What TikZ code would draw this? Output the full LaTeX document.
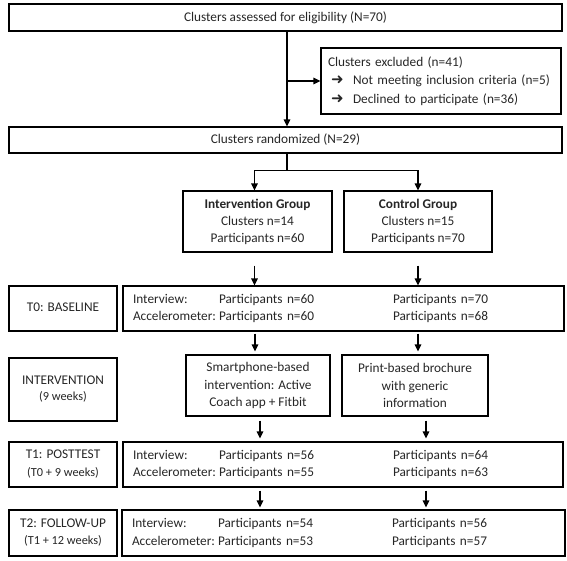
\documentclass[tikz,border=0pt]{standalone}
\usepackage{fontspec}
\setmainfont{Carlito}
\newfontfamily\symfont{DejaVu Sans}
\usetikzlibrary{arrows.meta,calc}
\tikzset{
  box/.style={draw, line width=1.2pt, inner sep=0pt, align=center, text=black!85,
    font=\fontsize{13.3}{17.5}\selectfont},
  databox/.style={draw, line width=1.2pt, inner xsep=10pt, inner ysep=0pt, align=left, text=black!85,
    font=\fontsize{13.3}{17.7}\selectfont},
  line/.style={line width=1.4pt},
  arr/.style={line width=1.4pt, -{Triangle[length=7pt,width=6.5pt]}}
}
\newcommand{\sml}[1]{{\fontsize{12.3}{17}\selectfont #1}}
\newcommand{\drow}[3]{\makebox[86pt][l]{#1}\makebox[174pt][l]{#2}#3}
\newcommand{\bularr}{\makebox[25pt][l]{\hspace{3pt}\symfont\fontsize{15}{15}\selectfont\raisebox{0pt}{➜}}}
\begin{document}
\begin{tikzpicture}[x=1pt,y=-1pt]
\useasboundingbox (0,0) rectangle (567,560);

\node[box, minimum width=553pt, minimum height=27pt] (assess) at (285.5,17.5)
  {Clusters assessed for eligibility (N=70)};

\node[box, minimum width=240pt, minimum height=66pt, text width=226pt, align=left,
  font=\fontsize{13.3}{18.5}\selectfont] (excl) at (441,81)
  {Clusters excluded (n=41)\\
   \bularr Not meeting inclusion criteria (n=5)\\
   \bularr Declined to participate (n=36)};

\node[box, minimum width=553pt, minimum height=26pt] (rand) at (285.5,140)
  {Clusters randomized (N=29)};

\node[box, minimum width=149pt, minimum height=61pt, font=\fontsize{13.3}{17}\selectfont] (intg) at (257.5,221.5)
  {\textbf{Intervention Group}\\Clusters n=14\\Participants n=60};
\node[box, minimum width=148pt, minimum height=61pt, font=\fontsize{13.3}{17}\selectfont] (ctrl) at (418,221.5)
  {\textbf{Control Group}\\Clusters n=15\\Participants n=70};

% T0
\node[box, minimum width=108pt, minimum height=45pt] (t0l) at (63,308.5)
  {\raisebox{3pt}{T0: BASELINE}};
\node[databox, text width=421pt, minimum height=45pt] (t0d) at (343.5,308.5)
  {\drow{Interview:}{Participants n=60}{Participants n=70}\\
   \drow{Accelerometer:}{Participants n=60}{Participants n=68}};

% Intervention
\node[box, minimum width=108pt, minimum height=63pt, font=\fontsize{13.3}{17}\selectfont] (intl) at (63,389.5)
  {\raisebox{6pt}{\begin{tabular}{@{}c@{}}INTERVENTION\\[-1pt] \sml{(9 weeks)}\end{tabular}}};
\node[box, minimum width=144pt, minimum height=61pt] (smart) at (258,385.5)
  {Smartphone-based\\intervention: Active\\Coach app + Fitbit};
\node[box, minimum width=146pt, minimum height=61pt] (print) at (415,385.5)
  {Print-based brochure\\with generic\\information};

% T1
\node[box, minimum width=108pt, minimum height=45pt, font=\fontsize{13.3}{18}\selectfont] (t1l) at (63,464.5)
  {T1: POSTTEST\\\sml{(T0 + 9 weeks)}};
\node[databox, text width=420pt, minimum height=45pt] (t1d) at (343,464.5)
  {\drow{Interview:}{Participants n=56}{Participants n=64}\\
   \drow{Accelerometer:}{Participants n=55}{Participants n=63}};

% T2
\node[box, minimum width=108pt, minimum height=46pt, font=\fontsize{13.3}{17}\selectfont] (t2l) at (63,533)
  {T2: FOLLOW-UP\\\sml{(T1 + 12 weeks)}};
\node[databox, text width=423pt, minimum height=46pt] (t2d) at (343.5,533)
  {\drow{Interview:}{Participants n=54}{Participants n=56}\\
   \drow{Accelerometer:}{Participants n=53}{Participants n=57}};

% connectors
\draw[arr] ([xshift=1.5pt]assess.south) -- ([xshift=1.5pt]rand.north);
\draw[arr] ([xshift=1.5pt]assess.south |- excl.west) -- (excl.west);

\coordinate (split) at ($(rand.south)+(1.5,17)$);
\draw[line] ([xshift=1.5pt]rand.south) -- (split);
\draw[line, {Triangle[length=7pt,width=6.5pt]}-{Triangle[length=7pt,width=6.5pt]}]
  ([xshift=-3pt]intg.north) |- (split) -| (ctrl.north);

\draw[arr, shorten <=13pt] ([xshift=-3pt]intg.south) -- ([xshift=-3pt]intg.south |- t0d.north);
\draw[arr, shorten <=13pt] (ctrl.south) -- (ctrl.south |- t0d.north);

\draw[arr, shorten <=2pt, shorten >=3pt] ([xshift=-3pt]smart.north |- t0d.south) -- ([xshift=-3pt]smart.north);
\draw[arr, shorten <=2pt, shorten >=3pt] ([xshift=3pt]print.north |- t0d.south) -- ([xshift=3pt]print.north);

\draw[arr, shorten <=4pt, shorten >=3pt] ([xshift=2pt]smart.south) -- ([xshift=2pt]smart.south |- t1d.north);
\draw[arr, shorten <=4pt, shorten >=3pt] ([xshift=11pt]print.south) -- ([xshift=11pt]print.south |- t1d.north);

\draw[arr, shorten <=3pt, shorten >=2pt] ([xshift=2pt]smart.south |- t1d.south) -- ([xshift=2pt]smart.south |- t2d.north);
\draw[arr, shorten <=3pt, shorten >=2pt] ([xshift=11pt]print.south |- t1d.south) -- ([xshift=11pt]print.south |- t2d.north);
\end{tikzpicture}
\end{document}
